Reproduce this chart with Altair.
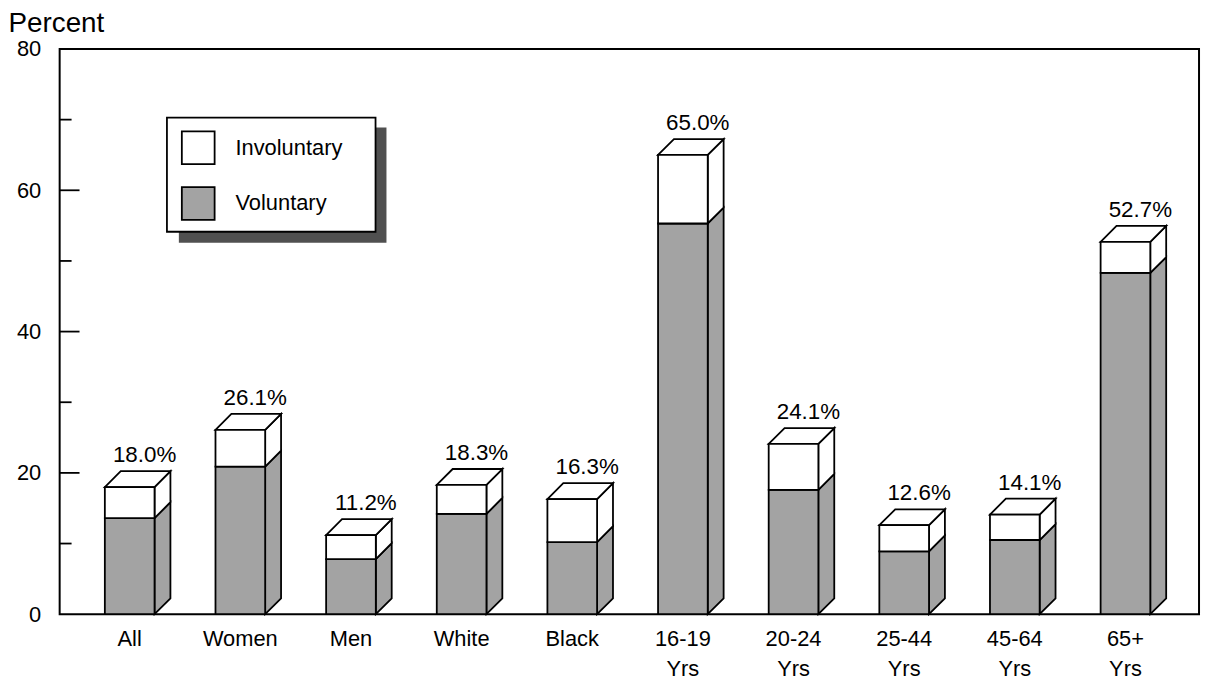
import altair as alt
import pandas as pd

# ---------------- data ----------------
categories = ["All", "Women", "Men", "White", "Black",
              "16-19\nYrs", "20-24\nYrs", "25-44\nYrs", "45-64\nYrs", "65+\nYrs"]
total_pct = [18.0, 26.1, 11.2, 18.3, 16.3, 65.0, 24.1, 12.6, 14.1, 52.7]
voluntary_pct = [13.6, 20.9, 7.8, 14.2, 10.2, 55.3, 17.6, 8.9, 10.5, 48.3]
series = ["Involuntary", "Voluntary"]
y_label_values = [0, 20, 40, 60, 80]
major_ticks = [20, 40, 60]
minor_ticks = [10, 30, 50, 70]

# ---------------- style ----------------
FONT = "Liberation Sans"
W, H = 1147, 569
X_DOMAIN = [-0.633, 9.665]
Y_DOMAIN = [0, 80]
HALF = 0.2245                      # half front-face width, x units
PX_X = W / (X_DOMAIN[1] - X_DOMAIN[0])
PX_Y = H / (Y_DOMAIN[1] - Y_DOMAIN[0])
DX = 16 / PX_X                     # 3-D depth in x units
DY = 16 / PX_Y                     # 3-D depth in y units
GRAY = "#a3a3a3"
SW = 1.8

# ---------------- tables built from the arrays ----------------
front_rows, face_rows, label_rows = [], [], []
for i, (cat, tot, vol) in enumerate(zip(categories, total_pct, voluntary_pct)):
    xl, xr = i - HALF, i + HALF
    front_rows.append(dict(xl=xl, xr=xr, lo=0, hi=vol, kind="Voluntary"))
    front_rows.append(dict(xl=xl, xr=xr, lo=vol, hi=tot, kind="Involuntary"))
    fid = f"s{i}v"
    face_rows += [dict(face=fid, kind="Voluntary", px=xr, hi=vol, lo=0),
                  dict(face=fid, kind="Voluntary", px=xr + DX, hi=vol + DY, lo=DY)]
    fid = f"s{i}i"
    face_rows += [dict(face=fid, kind="Involuntary", px=xr, hi=tot, lo=vol),
                  dict(face=fid, kind="Involuntary", px=xr + DX, hi=tot + DY, lo=vol + DY)]
    fid = f"t{i}"
    face_rows += [dict(face=fid, kind="Involuntary", px=xl, hi=tot, lo=tot),
                  dict(face=fid, kind="Involuntary", px=xl + DX, hi=tot + DY, lo=tot),
                  dict(face=fid, kind="Involuntary", px=xr, hi=tot + DY, lo=tot),
                  dict(face=fid, kind="Involuntary", px=xr + DX, hi=tot + DY, lo=tot + DY)]
    label_rows.append(dict(pos=i, total=tot, pct=f"{tot:.1f}%", cat=cat))

front_df = pd.DataFrame(front_rows)
face_df = pd.DataFrame(face_rows)
label_df = pd.DataFrame(label_rows)

xscale = alt.Scale(domain=X_DOMAIN, nice=False, zero=False)
yscale = alt.Scale(domain=Y_DOMAIN, nice=False, zero=True)
yaxis = alt.Axis(values=y_label_values, ticks=False, tickSize=0, domain=False, grid=False,
                 labelFont=FONT, labelFontSize=22, labelColor="black", labelPadding=19,
                 title="Percent", titleAngle=0, titleX=-52, titleY=-26, titleAlign="left",
                 titleBaseline="middle", titleFont=FONT, titleFontSize=28,
                 titleFontWeight="normal", titleColor="black")
legend = alt.Legend(title=None, orient="none", legendX=122, legendY=82,
                    symbolType="square", symbolSize=1089, symbolStrokeColor="black",
                    symbolStrokeWidth=SW, symbolOpacity=1,
                    labelFont=FONT, labelFontSize=22, labelColor="black",
                    labelOffset=20, rowPadding=15, padding=0)
color = alt.Color("kind:N", scale=alt.Scale(domain=series, range=["#ffffff", GRAY]),
                  legend=legend)

faces = alt.Chart(face_df).mark_area(stroke="black", strokeWidth=SW, opacity=1,
                                     fillOpacity=1, interpolate="linear").encode(
    x=alt.X("px:Q", scale=xscale, axis=None),
    y=alt.Y("hi:Q", scale=yscale, axis=yaxis),
    y2="lo:Q",
    color=color,
    detail="face:N",
)

fronts = alt.Chart(front_df).mark_bar(stroke="black", strokeWidth=SW, opacity=1).encode(
    x=alt.X("xl:Q", scale=xscale, axis=None),
    x2="xr:Q",
    y=alt.Y("lo:Q", scale=yscale, axis=yaxis),
    y2="hi:Q",
    color=color,
)

pct_text = alt.Chart(label_df).mark_text(font=FONT, fontSize=22.5, color="black",
                                         baseline="alphabetic", align="center",
                                         dx=15, dy=-25).encode(
    x=alt.X("pos:Q", scale=xscale, axis=None),
    y=alt.Y("total:Q", scale=yscale, axis=yaxis),
    text="pct:N",
)

cat_text = alt.Chart(label_df).mark_text(font=FONT, fontSize=22, color="black",
                                         baseline="top", align="center",
                                         lineBreak="\n", lineHeight=30).encode(
    x=alt.X("pos:Q", scale=xscale, axis=None),
    y=alt.value(H + 15),
    text="cat:N",
)

major = alt.Chart(pd.DataFrame({"v": major_ticks})).mark_rule(
    color="black", strokeWidth=SW).encode(
    y=alt.Y("v:Q", scale=yscale, axis=yaxis), x=alt.value(0), x2=alt.value(20))
minor = alt.Chart(pd.DataFrame({"v": minor_ticks})).mark_rule(
    color="black", strokeWidth=SW).encode(
    y=alt.Y("v:Q", scale=yscale, axis=yaxis), x=alt.value(0), x2=alt.value(12))

one = alt.Data(values=[{"k": 1}])
shadow = alt.Chart(one).mark_rect(color="#505050").encode(
    x=alt.value(120), x2=alt.value(329), y=alt.value(79), y2=alt.value(195))
box = alt.Chart(one).mark_rect(fill="white", stroke="black", strokeWidth=SW).encode(
    x=alt.value(108), x2=alt.value(318), y=alt.value(69), y2=alt.value(184))

chart = alt.layer(shadow, box, faces, fronts, major, minor, pct_text, cat_text).properties(
    width=W, height=H,
    autosize=alt.AutoSizeParams(type="none"),
    padding={"left": 52, "top": 39, "right": 4, "bottom": 65},
    background="white",
).configure_view(stroke="black", strokeWidth=2)

chart.save("out.html", embed_options={"renderer": "svg", "actions": False})
